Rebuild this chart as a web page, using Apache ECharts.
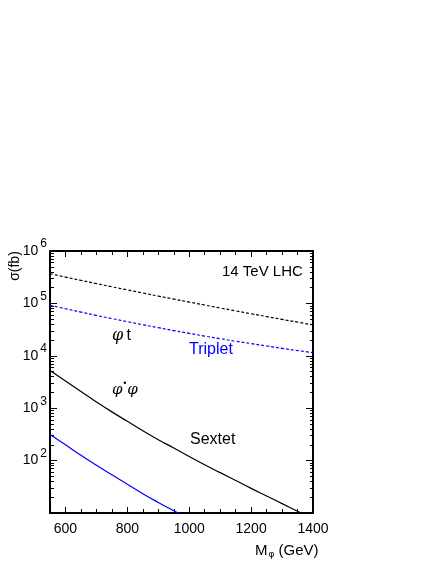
<!DOCTYPE html>
<html>
<head>
<meta charset="utf-8">
<script src="https://cdn.jsdelivr.net/npm/echarts@6/dist/echarts.min.js"></script>
<style>
  html, body { margin: 0; padding: 0; background: #fff; }
  #chart { width: 436px; height: 564px; }
</style>
</head>
<body>
<div id="chart"></div>
<script>
// masses (GeV)
const mass = [550, 600, 650, 700, 750, 800, 850, 900, 950, 1000, 1050, 1100, 1150, 1200, 1250, 1300, 1350, 1400];
// sextet, phi t (black dashed)
const sextetSingle = [369000, 318000, 275000, 239000, 207000, 181000, 158000, 138000, 121000, 106000, 93100, 81800, 72100, 63500, 56100, 49500, 43900, 38800];
// triplet, phi t (blue dashed)
const tripletSingle = [92000, 79100, 68200, 59000, 51300, 44700, 39100, 34400, 30300, 26800, 23800, 21200, 19000, 17100, 15400, 13900, 12600, 11500];
// sextet, phi* phi (black solid)
const sextetPair = [5250, 3310, 2090, 1320, 851, 562, 372, 251, 174, 120, 83.2, 58.9, 41.7, 29.5, 21.1, 15.1, 10.8, 7.7];
// triplet, phi* phi (blue solid), only down to the axis floor
const tripletPair = [316, 200, 126, 81.3, 53.7, 35.5, 23.4, 15.9, 11.0, 7.7];

const xMajor = [600, 800, 1000, 1200, 1400];
const xMinor = [550, 650, 700, 750, 850, 900, 950, 1050, 1100, 1150, 1250, 1300, 1350];
const yMajor = [10, 100, 1000, 10000, 100000, 1000000];
const yMinor = [];
yMajor.slice(0, -1).forEach(d => {
  for (let k = 2; k <= 9; k++) yMinor.push(d * k);
});

const FONT = 'Liberation Sans';
const pairs = (xs, ys) => ys.map((y, i) => [xs[i], y]);

const chart = echarts.init(document.getElementById('chart'));

const xBase = {
  type: 'value',
  min: 550,
  max: 1400,
  splitLine: { show: false },
  axisLine: { show: false },
  axisLabel: { show: false },
};
const yBase = {
  type: 'log',
  logBase: 10,
  min: 10,
  max: 1000000,
  splitLine: { show: false },
  axisLine: { show: false },
  axisLabel: { show: false },
};
const frame = { show: true, onZero: false, lineStyle: { color: '#000', width: 2 } };
const tick = (values, len) => ({
  show: true,
  inside: true,
  length: len,
  customValues: values,
  lineStyle: { color: '#000', width: 1 },
});

chart.setOption({
  animation: false,
  grid: { left: 50, top: 251, width: 263, height: 262, containLabel: false },
  xAxis: [
    {
      ...xBase,
      position: 'bottom',
      axisLine: frame,
      axisTick: tick(xMajor, 6),
      axisLabel: {
        show: true,
        customValues: xMajor,
        margin: 9,
        color: '#000',
        fontFamily: FONT,
        fontSize: 14,
        formatter: v => String(v),
      },
    },
    { ...xBase, position: 'bottom', axisTick: tick(xMinor, 4) },
    { ...xBase, position: 'top', axisLine: frame, axisTick: tick(xMajor, 6) },
    { ...xBase, position: 'top', axisTick: tick(xMinor, 4) },
  ],
  yAxis: [
    {
      ...yBase,
      position: 'left',
      axisLine: frame,
      axisTick: tick(yMajor, 7),
      axisLabel: {
        show: true,
        customValues: yMajor,
        margin: 3,
        color: '#000',
        fontFamily: FONT,
        formatter: v => {
          const e = Math.round(Math.log10(v));
          return e <= 1 ? '' : '{b|10}{s|' + e + '}';
        },
        rich: {
          b: { fontFamily: FONT, fontSize: 14, color: '#000' },
          s: { fontFamily: FONT, fontSize: 12, color: '#000', padding: [0, 0, 14, 2] },
        },
      },
    },
    { ...yBase, position: 'left', axisTick: tick(yMinor, 4) },
    { ...yBase, position: 'right', axisLine: frame, axisTick: tick(yMajor, 7) },
    { ...yBase, position: 'right', axisTick: tick(yMinor, 3) },
  ],
  series: [
    {
      name: 'Sextet phi t',
      type: 'line',
      data: pairs(mass, sextetSingle),
      showSymbol: false,
      smooth: true,
      lineStyle: { color: '#000', width: 1.2, type: [3, 2] },
    },
    {
      name: 'Triplet phi t',
      type: 'line',
      data: pairs(mass, tripletSingle),
      showSymbol: false,
      smooth: true,
      lineStyle: { color: '#0000ff', width: 1.2, type: [3, 2] },
    },
    {
      name: 'Sextet phi* phi',
      type: 'line',
      data: pairs(mass, sextetPair),
      showSymbol: false,
      smooth: true,
      lineStyle: { color: '#000', width: 1.2 },
    },
    {
      name: 'Triplet phi* phi',
      type: 'line',
      data: pairs(mass, tripletPair),
      showSymbol: false,
      smooth: true,
      lineStyle: { color: '#0000ff', width: 1.2 },
    },
  ],
  graphic: [
    {
      type: 'text', left: 222, top: 264,
      style: { text: '14 TeV LHC', fill: '#000', font: '15px "Liberation Sans"' },
    },
    {
      type: 'text', left: 189, top: 342,
      style: { text: 'Triplet', fill: '#0000ff', font: '16px "Liberation Sans"' },
    },
    {
      type: 'text', left: 190, top: 432,
      style: { text: 'Sextet', fill: '#000', font: '16px "Liberation Sans"' },
    },
    {
      type: 'text', left: 112, top: 328,
      style: {
        text: '{p|φ} {t|t}',
        rich: {
          p: { font: 'italic 16px "DejaVu Serif"', fill: '#000' },
          t: { font: '16px "Liberation Sans"', fill: '#000' },
        },
      },
    },
    {
      type: 'text', left: 112, top: 380,
      style: {
        text: '{p|φ}{s|•}{p|φ}',
        rich: {
          p: { font: 'italic 15px "DejaVu Serif"', fill: '#000' },
          s: { font: '8px "DejaVu Sans"', fill: '#000', padding: [0, 0, 12, 0] },
        },
      },
    },
    {
      type: 'text', x: 15, y: 266, rotation: Math.PI / 2,
      style: {
        text: 'σ(fb)', fill: '#000', font: '14px "Liberation Sans"',
        align: 'center', verticalAlign: 'middle',
      },
    },
    {
      type: 'text', left: 255, top: 543,
      style: {
        text: '{m|M}{sub|φ}{m| (GeV)}',
        rich: {
          m: { font: '15px "Liberation Sans"', fill: '#000' },
          sub: { font: '9px "DejaVu Sans"', fill: '#000', padding: [9, 0, 0, 1] },
        },
      },
    },
  ],
});
</script>
</body>
</html>
